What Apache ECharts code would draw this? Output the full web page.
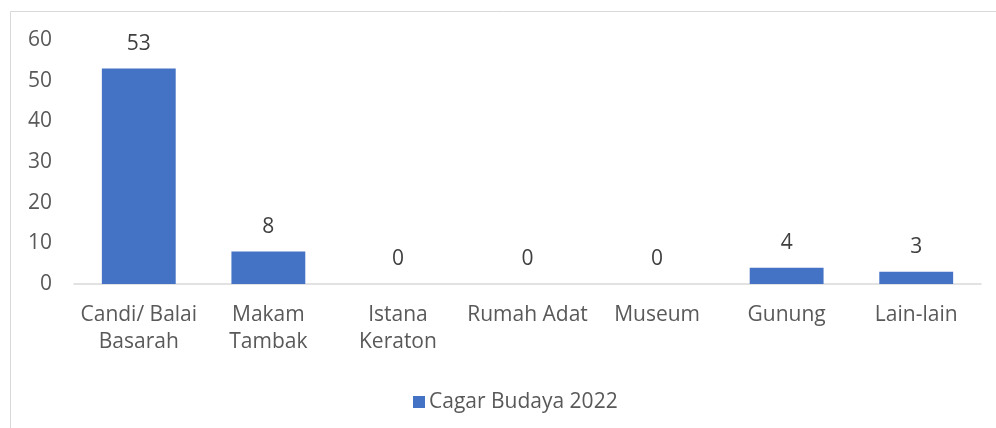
<!DOCTYPE html>
<html>
<head>
<meta charset="utf-8">
<script src="https://cdn.jsdelivr.net/npm/echarts@6/dist/echarts.min.js"></script>
<style>html,body{margin:0;padding:0;background:#fff}#c{width:996px;height:428px}</style>
</head>
<body>
<div id="c"></div>
<script>
const categories = ["Candi/ Balai\nBasarah", "Makam\nTambak", "Istana\nKeraton", "Rumah Adat", "Museum", "Gunung", "Lain-lain"];
const seriesName = "Cagar Budaya 2022";
const values = [53, 8, 0, 0, 0, 4, 3];
const yTicks = { min: 0, max: 60, interval: 10 };

const FONT = "'Open Sans', 'Noto Sans', sans-serif";
const chart = echarts.init(document.getElementById('c'), null, { renderer: 'canvas' });
chart.setOption({
  animation: false,
  backgroundColor: '#ffffff',
  textStyle: { fontFamily: FONT },
  graphic: [{
    type: 'polyline',
    shape: { points: [[10.5, 428], [10.5, 11.5], [996, 11.5]] },
    style: { stroke: '#d9d9d9', lineWidth: 1, fill: null },
    silent: true
  }],
  grid: { left: 74, right: 15, top: 40, bottom: 144, containLabel: false },
  legend: {
    data: [seriesName],
    top: 385,
    left: 408,
    icon: 'rect',
    itemWidth: 12,
    itemHeight: 12,
    itemGap: 6,
    textStyle: { fontFamily: FONT, fontSize: 21, lineHeight: 24, color: '#595959', padding: [0, 0, 0, -1] }
  },
  xAxis: {
    type: 'category',
    data: categories,
    axisLine: { show: true, lineStyle: { color: '#d9d9d9', width: 1.5 } },
    axisTick: { show: false },
    axisLabel: { fontFamily: FONT, fontSize: 21, color: '#595959', lineHeight: 27, margin: 18, interval: 0 }
  },
  yAxis: {
    type: 'value',
    min: yTicks.min,
    max: yTicks.max,
    interval: yTicks.interval,
    splitLine: { show: false },
    axisLine: { show: false },
    axisTick: { show: false },
    axisLabel: { fontFamily: FONT, fontSize: 21, color: '#595959', margin: 22 }
  },
  series: [{
    name: seriesName,
    type: 'bar',
    data: values,
    barCategoryGap: '43%',
    itemStyle: { color: '#4472c4' },
    label: { show: true, position: 'top', distance: 14, fontFamily: FONT, fontSize: 21, color: '#404040' }
  }]
});
</script>
</body>
</html>
